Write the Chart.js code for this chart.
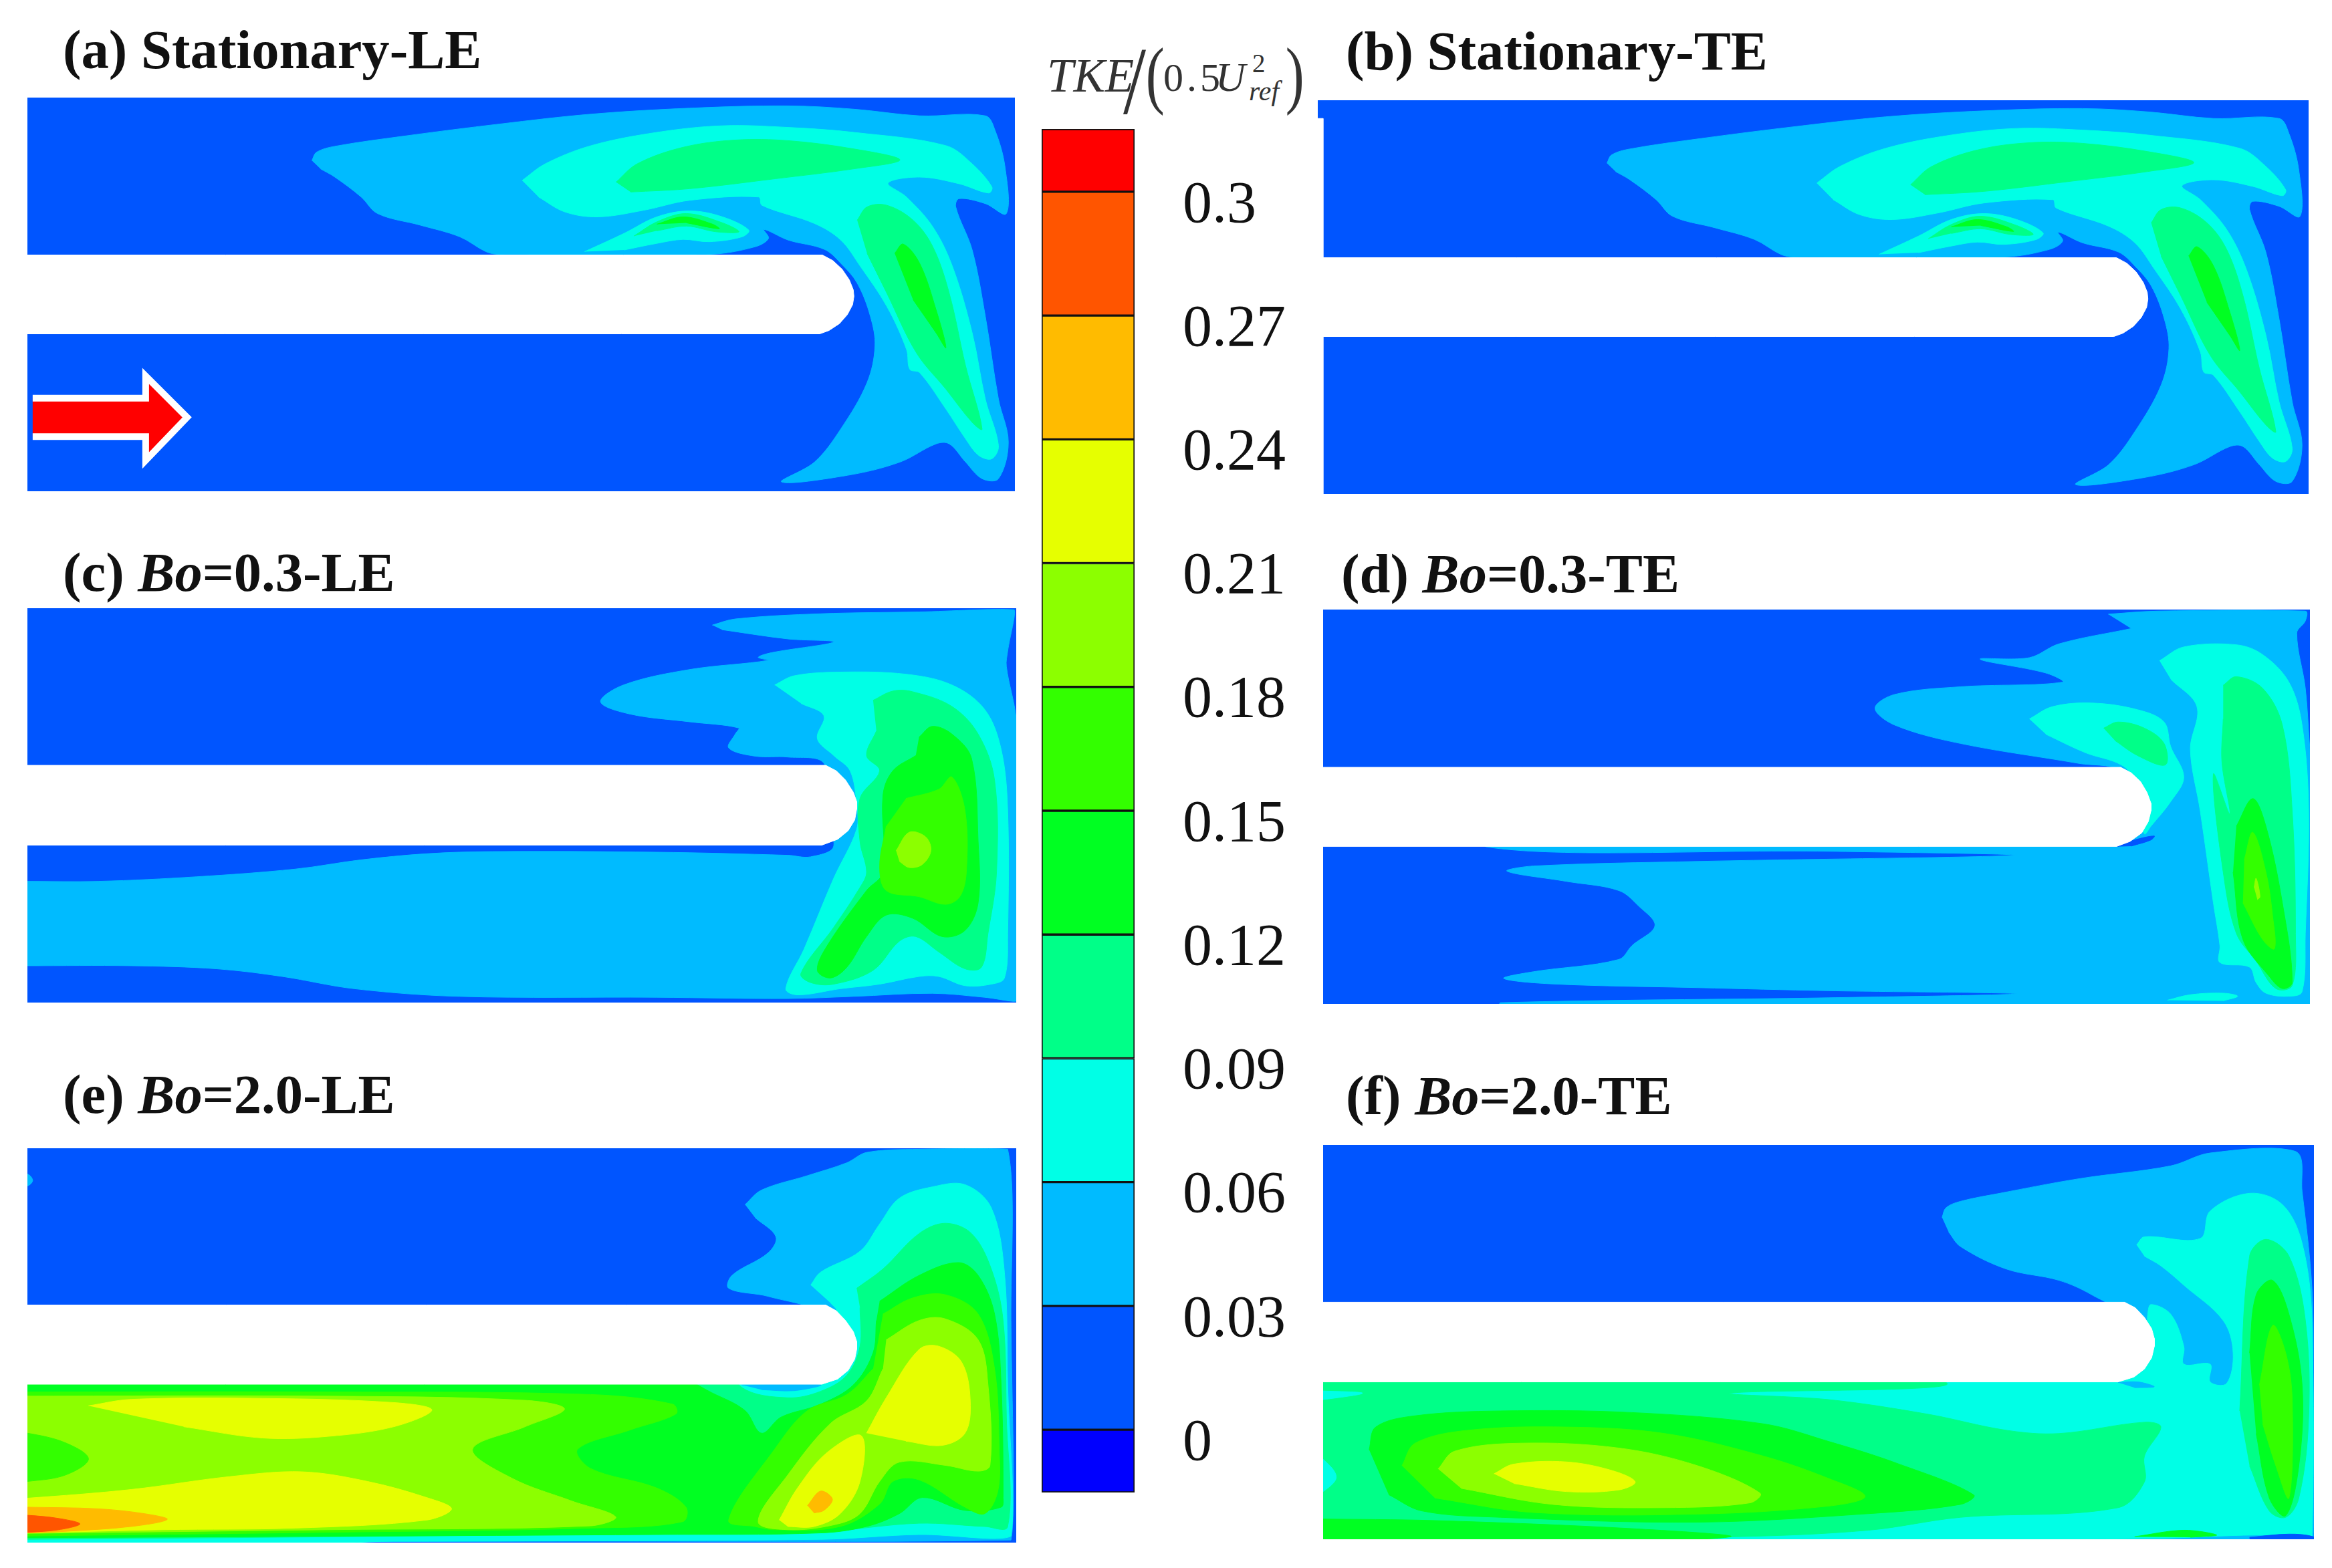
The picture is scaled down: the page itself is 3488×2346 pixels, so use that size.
<!DOCTYPE html>
<html lang="en">
<head>
  <meta charset="UTF-8" />
  <title>TKE contours</title>
  <script src="https://cdn.jsdelivr.net/npm/chart.js"></script>
  <style>
    html, body { margin: 0; background: #fff; }
    #page { position: relative; width: 3488px; height: 2346px; overflow: hidden; font-family: "Liberation Serif", serif; }
    #page canvas { position: absolute; }
    .tag { position: absolute; font-size: 82.6px; line-height: 1; font-weight: bold; color: #111; white-space: nowrap; }
    .hd { position: absolute; color: #333; line-height: 1; white-space: nowrap; }
  </style>
</head>
<body>
<div id="page">
  <div class="tag" style="left:94px;top:33px">(a) Stationary-LE</div>
  <div class="tag" style="left:2013px;top:35px">(b) Stationary-TE</div>
  <div class="tag" style="left:94px;top:815px">(c) <i>Bo</i>=0.3-LE</div>
  <div class="tag" style="left:2006px;top:817px">(d) <i>Bo</i>=0.3-TE</div>
  <div class="tag" style="left:94px;top:1596px">(e) <i>Bo</i>=2.0-LE</div>
  <div class="tag" style="left:2013px;top:1598px">(f) <i>Bo</i>=2.0-TE</div>

  <span class="hd" style="left:1566px;top:78px;font-size:71px;font-style:italic">TKE</span>
  <span class="hd" style="left:1677px;top:50px;font-size:144px;transform:scaleX(.85)">/</span>
  <span class="hd" style="left:1709px;top:55px;font-size:112px;transform:scaleX(.75)">(</span>
  <span class="hd" style="left:1740px;top:86px;font-size:60px;letter-spacing:5px">0.5</span>
  <span class="hd" style="left:1818px;top:84px;font-size:62px;font-style:italic">U</span>
  <span class="hd" style="left:1873px;top:75px;font-size:39px">2</span>
  <span class="hd" style="left:1868px;top:115px;font-size:42px;font-style:italic">ref</span>
  <span class="hd" style="left:1918px;top:55px;font-size:112px;transform:scaleX(.75)">)</span>

  <canvas id="panelA" width="1477" height="589" style="left:41px;top:146px"></canvas>
  <canvas id="panelB" width="1482" height="589" style="left:1971px;top:150px"></canvas>
  <canvas id="panelC" width="1479" height="590" style="left:41px;top:910px"></canvas>
  <canvas id="panelD" width="1476" height="590" style="left:1979px;top:912px"></canvas>
  <canvas id="panelE" width="1479" height="590" style="left:41px;top:1718px"></canvas>
  <canvas id="panelF" width="1482" height="590" style="left:1979px;top:1713px"></canvas>
  <canvas id="colorBar" width="420" height="2040" style="left:1558px;top:193px"></canvas>
</div>

<script>
// colour bar
const barEdges = [-0.0152, 0, 0.03, 0.06, 0.09, 0.12, 0.15, 0.18, 0.21, 0.24, 0.27, 0.3, 0.3152];
const barColors = ['#0000ff', '#0055ff', '#00bbff', '#00ffe6', '#00ff88', '#00ff22', '#33ff00', '#8cff00', '#e6ff00', '#ffbb00', '#ff5500', '#ff0000'];
const barTicks = [0, 0.03, 0.06, 0.09, 0.12, 0.15, 0.18, 0.21, 0.24, 0.27, 0.3];
const barLabels = ['0', '0.03', '0.06', '0.09', '0.12', '0.15', '0.18', '0.21', '0.24', '0.27', '0.3'];

// contour outlines in digitiser grid units (x right, y down)
// stationary cases (a) and (b) show the same field
const st03 = [[475,480],[482,455],[510,437],[620,405],[760,370],[900,340],[1050,322],[1200,315],[1300,325],[1400,345],[1500,345],[1515,390],[1530,500],[1532,640],[1500,610],[1460,595],[1455,620],[1480,750],[1500,950],[1520,1200],[1535,1330],[1520,1440],[1495,1440],[1470,1390],[1445,1335],[1425,1335],[1370,1390],[1290,1430],[1190,1450],[1240,1390],[1280,1290],[1320,1150],[1332,1040],[1325,950],[1305,850],[1280,790],[1255,748],[1200,720],[1163,688],[1170,715],[1150,740],[1080,763],[760,763],[740,755],[700,710],[640,675],[575,640],[550,590],[510,530],[488,505]];
const st06 = [[795,540],[830,490],[900,435],[1000,395],[1100,375],[1200,380],[1300,395],[1440,435],[1480,490],[1510,560],[1505,578],[1460,550],[1400,530],[1352,548],[1380,590],[1420,680],[1450,800],[1480,1000],[1500,1200],[1520,1340],[1510,1380],[1490,1370],[1470,1320],[1440,1230],[1400,1120],[1385,1110],[1380,1050],[1350,920],[1310,800],[1280,720],[1240,670],[1160,615],[1155,590],[1050,600],[980,630],[910,650],[860,635],[820,590]];
const st06Small = [[890,755],[950,700],[1000,650],[1050,632],[1100,650],[1140,690],[1130,710],[1080,725],[1040,718],[1000,730],[950,750]];
const st09Upper = [[938,545],[970,490],[1040,440],[1120,418],[1200,420],[1300,445],[1370,478],[1300,505],[1180,535],[1050,565],[960,575]];
const st09Right = [[1305,660],[1320,620],[1350,615],[1390,660],[1420,740],[1445,880],[1470,1100],[1495,1290],[1480,1270],[1440,1170],[1395,1060],[1350,880],[1320,760]];
const st09Small = [[965,708],[1000,665],[1045,640],[1100,668],[1125,695],[1090,695],[1045,678],[1000,692]];
const st12Right = [[1362,760],[1375,732],[1400,790],[1425,930],[1440,1045],[1425,1000],[1390,900]];
const st12Small = [[1000,672],[1040,650],[1085,672],[1095,686],[1045,668]];
const bladeSt = [[20,765],[1252,765],[1268,782],[1282,808],[1293,840],[1299,870],[1300,890],[1298,915],[1290,945],[1278,972],[1262,993],[1248,1003],[20,1003]];
const arrowA = [[50,1197],[222,1197],[222,1130],[285,1255],[222,1385],[222,1313],[50,1313]];
const trimB = [[20,345],[42,345],[42,1490],[20,1490]];

// (c)
const c03 = [[1085,295],[1120,275],[1250,258],[1400,252],[1545,245],[1535,380],[1533,430],[1548,600],[1560,1000],[1548,1520],[1500,1508],[1420,1495],[1300,1505],[1200,1512],[1000,1508],[700,1505],[540,1480],[430,1440],[330,1415],[200,1405],[42,1405],[20,1405],[20,1130],[42,1130],[150,1130],[300,1115],[450,1090],[550,1060],[650,1040],[750,1033],[1000,1035],[1200,1045],[1235,1050],[1270,1015],[1250,880],[1255,745],[1200,725],[1150,722],[1110,695],[1120,650],[1125,630],[1050,610],[960,585],[915,545],[950,490],[1050,440],[1170,410],[1155,400],[1175,385],[1270,350],[1200,340],[1100,310]];
const c06 = [[1180,490],[1210,460],[1280,448],[1380,455],[1450,490],[1500,570],[1525,700],[1535,900],[1535,1300],[1530,1445],[1510,1465],[1470,1470],[1430,1440],[1400,1440],[1340,1465],[1280,1480],[1215,1500],[1197,1480],[1225,1350],[1270,1120],[1305,960],[1305,880],[1295,770],[1270,720],[1245,665],[1255,590],[1220,550]];
const c09 = [[1330,540],[1360,510],[1390,512],[1450,560],[1490,650],[1515,800],[1518,1100],[1505,1300],[1495,1410],[1470,1415],[1430,1360],[1395,1310],[1370,1325],[1330,1420],[1270,1465],[1235,1460],[1220,1430],[1270,1280],[1310,1150],[1320,1100],[1310,1000],[1310,860],[1340,770],[1320,720],[1335,640]];
const c12 = [[1400,660],[1420,625],[1450,650],[1480,730],[1490,1000],[1490,1200],[1470,1290],[1435,1310],[1390,1250],[1350,1240],[1320,1310],[1290,1410],[1265,1445],[1245,1420],[1260,1340],[1320,1160],[1345,1100],[1345,850],[1360,770],[1395,720]];
const c15 = [[1380,860],[1430,830],[1450,790],[1470,900],[1472,1100],[1462,1180],[1440,1205],[1400,1180],[1350,1160],[1340,1080],[1350,950]];
const c18 = [[1365,1030],[1385,970],[1410,985],[1418,1030],[1405,1075],[1385,1085],[1370,1065]];
const bladeC = [[20,752],[1258,752],[1274,770],[1288,800],[1300,840],[1305,870],[1305,895],[1302,930],[1292,965],[1276,993],[1252,1012],[20,1012]];

// (d)
const d03 = [[1225,258],[1300,248],[1525,248],[1525,280],[1512,320],[1525,500],[1532,700],[1545,1000],[1545,1540],[300,1540],[300,1526],[800,1510],[1085,1497],[800,1487],[600,1477],[380,1465],[305,1447],[350,1425],[480,1385],[500,1340],[535,1275],[510,1210],[480,1160],[400,1130],[310,1097],[350,1080],[600,1065],[1080,1045],[800,1032],[280,1018],[400,900],[1200,880],[1240,770],[1180,745],[1000,680],[900,620],[870,565],[900,520],[1000,495],[1155,480],[1130,450],[1030,405],[1105,400],[1150,355],[1260,305]];
const d00Tip = [[1238,1017],[1265,995],[1295,982],[1290,995],[1260,1015]];
const d06Blob = [[1105,600],[1140,560],[1200,548],[1270,570],[1310,610],[1320,690],[1340,790],[1320,870],[1290,950],[1280,975],[1270,890],[1265,800],[1245,750],[1190,710],[1130,650]];
const d06Right = [[1303,410],[1340,365],[1420,358],[1460,390],[1500,480],[1520,620],[1530,900],[1525,1300],[1520,1490],[1500,1505],[1465,1495],[1450,1460],[1440,1410],[1395,1395],[1395,1340],[1385,1200],[1365,900],[1350,700],[1360,560],[1320,470]];
const d06Low = [[1315,1518],[1350,1500],[1400,1495],[1422,1505],[1400,1520]];
const d09Blob = [[1218,630],[1240,610],[1280,630],[1310,680],[1312,750],[1270,720],[1235,670]];
const d09Right = [[1400,490],[1420,462],[1460,500],[1490,620],[1505,900],[1510,1300],[1505,1470],[1480,1480],[1450,1390],[1420,1300],[1400,1100],[1385,780],[1410,910],[1398,740],[1400,600]];
const d12 = [[1420,950],[1445,860],[1465,950],[1490,1200],[1505,1460],[1490,1480],[1470,1440],[1430,1320],[1415,1100]];
const d15 = [[1432,1060],[1445,970],[1465,1100],[1475,1240],[1478,1350],[1460,1320],[1430,1200]];
const d18 = [[1447,1150],[1450,1120],[1456,1180],[1452,1190]];
const bladeD = [[20,758],[1244,758],[1260,776],[1274,804],[1284,840],[1290,875],[1290,900],[1286,935],[1276,972],[1258,1000],[1238,1016],[20,1016]];

// (e)
const e03 = [[1135,440],[1160,395],[1230,350],[1290,310],[1320,278],[1400,268],[1535,268],[1540,800],[1540,1482],[800,1486],[42,1490],[20,1490],[20,880],[600,880],[1200,860],[1250,780],[1170,725],[1110,700],[1115,660],[1170,590],[1182,540],[1150,480]];
const e03Notch = [[20,345],[42,345],[50,365],[42,382],[20,382]];
const e06 = [[1235,690],[1250,650],[1310,585],[1340,500],[1370,420],[1420,385],[1470,378],[1510,450],[1530,650],[1535,1000],[1540,1470],[1400,1465],[1250,1480],[600,1486],[20,1488],[20,880],[600,880],[1200,880],[1280,860],[1275,770],[1265,745]];
const e03Under = [[1130,1000],[1250,1000],[1210,1018],[1160,1015]];
const e09 = [[1305,700],[1345,640],[1400,530],[1440,498],[1480,530],[1510,640],[1528,800],[1533,1100],[1535,1440],[1500,1440],[1400,1430],[1250,1455],[600,1470],[42,1480],[20,1480],[20,880],[600,880],[1100,900],[1130,1008],[1200,1040],[1250,1020],[1290,970],[1310,880],[1310,760]];
const e12 = [[1340,740],[1400,660],[1460,620],[1490,660],[1515,780],[1525,1000],[1528,1350],[1525,1380],[1470,1390],[1405,1350],[1370,1400],[1320,1440],[1250,1460],[1000,1465],[42,1475],[20,1475],[20,900],[300,900],[1000,950],[1090,1030],[1135,1080],[1160,1150],[1190,1100],[1250,1060],[1300,1000],[1330,900],[1335,800]];
const e15Right = [[1345,780],[1390,730],[1440,720],[1490,780],[1515,950],[1522,1200],[1520,1330],[1500,1400],[1470,1380],[1400,1295],[1360,1300],[1340,1370],[1280,1440],[1180,1450],[1150,1440],[1110,1420],[1180,1200],[1230,1080],[1290,1030],[1330,950]];
const e15Left = [[20,1022],[500,1022],[900,1030],[1025,1060],[1030,1090],[960,1140],[880,1200],[900,1260],[1000,1320],[1045,1380],[1040,1425],[900,1445],[500,1458],[20,1470]];
const e18Left = [[20,1035],[500,1035],[800,1048],[860,1075],[800,1130],[720,1200],[780,1290],[870,1360],[938,1410],[900,1438],[500,1450],[20,1462]];
const e15Blob = [[20,1150],[42,1150],[100,1180],[135,1230],[100,1280],[42,1300],[20,1300]];
const e18Right = [[1350,860],[1400,800],[1440,795],[1490,860],[1505,1000],[1508,1250],[1490,1268],[1440,1250],[1370,1240],[1340,1300],[1310,1400],[1270,1435],[1200,1450],[1155,1425],[1200,1280],[1265,1120],[1320,1050],[1345,950]];
const e21Upper = [[135,1065],[200,1045],[400,1042],[600,1055],[658,1078],[600,1130],[500,1160],[400,1165],[280,1130]];
const e21Lower = [[20,1352],[42,1352],[200,1325],[350,1285],[460,1270],[560,1300],[650,1350],[688,1385],[650,1420],[450,1445],[250,1450],[42,1460],[20,1460]];
const e21RightA = [[1320,1150],[1350,1040],[1400,890],[1430,880],[1465,930],[1478,1050],[1470,1150],[1435,1188],[1380,1175]];
const e21RightB = [[1187,1420],[1215,1320],[1260,1210],[1312,1158],[1310,1300],[1280,1400],[1240,1440],[1200,1440]];
const e24Left = [[20,1380],[42,1380],[150,1385],[220,1400],[255,1418],[200,1440],[100,1455],[42,1460],[20,1460]];
const e24Right = [[1230,1375],[1250,1330],[1268,1355],[1255,1390],[1240,1398]];
const e27 = [[20,1405],[42,1405],[90,1415],[122,1432],[90,1450],[42,1458],[20,1458]];
const bladeE = [[20,752],[1258,752],[1274,770],[1288,800],[1300,835],[1305,865],[1305,890],[1302,920],[1292,955],[1276,982],[1252,998],[20,998]];

// (f)
const f03 = [[972,480],[978,450],[1000,430],[1060,405],[1180,360],[1320,320],[1380,280],[1510,275],[1520,400],[1535,700],[1537,1000],[1537,1478],[800,1490],[20,1490],[20,860],[600,860],[1200,860],[1240,780],[1200,720],[1150,675],[1070,640],[1000,570],[982,525]];
const f06 = [[1268,565],[1280,540],[1365,545],[1380,460],[1440,405],[1490,440],[1520,560],[1535,800],[1535,1470],[1450,1465],[1300,1475],[600,1490],[20,1490],[20,860],[600,860],[1200,860],[1280,860],[1285,780],[1290,750],[1320,780],[1340,880],[1340,935],[1380,935],[1380,990],[1405,995],[1415,900],[1400,800],[1340,690],[1305,630],[1280,600]];
const f03Tip = [[1240,992],[1270,990],[1295,1005],[1265,1008]];
const f09Low = [[20,860],[600,860],[980,995],[650,1025],[800,1045],[950,1090],[1070,1140],[1150,1150],[1280,1115],[1305,1130],[1280,1220],[1280,1300],[1240,1380],[1000,1410],[860,1450],[660,1470],[20,1490]];
const f06NotchTop = [[20,1018],[30,1018],[90,1025],[30,1045],[20,1045]];
const f06NotchLeft = [[20,1230],[30,1230],[50,1285],[30,1330],[20,1330]];
const f09Right = [[1425,1080],[1440,600],[1465,548],[1500,600],[1525,800],[1530,1100],[1515,1350],[1495,1410],[1470,1390],[1440,1250]];
const f12Main = [[100,1200],[110,1130],[170,1095],[300,1080],[500,1085],[700,1120],[800,1175],[900,1240],[1020,1340],[1000,1370],[850,1400],[600,1425],[300,1410],[180,1390],[130,1340]];
const f12Bottom = [[20,1415],[200,1420],[500,1445],[650,1470],[400,1490],[20,1490]];
const f12Low = [[1265,1470],[1340,1450],[1390,1465],[1350,1472]];
const f12Right = [[1440,900],[1450,720],[1475,675],[1500,780],[1520,1000],[1515,1250],[1495,1405],[1470,1350],[1450,1150]];
const f15Main = [[150,1250],[170,1180],[250,1140],[400,1130],[550,1150],[700,1220],[800,1290],[855,1345],[800,1375],[600,1400],[350,1395],[200,1350]];
const f15Right = [[1455,1000],[1475,815],[1495,900],[1505,1050],[1500,1350],[1480,1250],[1460,1120]];
const f18 = [[205,1260],[230,1205],[330,1180],[480,1195],[600,1250],[695,1335],[680,1365],[550,1380],[380,1370],[240,1320]];
const f21 = [[290,1275],[320,1245],[400,1238],[470,1265],[505,1300],[480,1325],[400,1330],[320,1305]];
const f00Corner = [[1440,1472],[1500,1462],[1537,1470],[1537,1485],[1440,1485]];
const bladeF = [[20,743],[1250,743],[1266,760],[1280,790],[1291,825],[1295,855],[1295,880],[1291,915],[1280,950],[1264,975],[1240,990],[20,990]];

// axis windows of the panels in the same grid units
const xMinA = 42, xMaxA = 1545, yMinA = 290, yMaxA = 1478;
const xMinB = 34, xMaxB = 1545, yMinB = 290, yMaxB = 1478;
const xMinC = 42, xMaxC = 1548, yMinC = 240, yMaxC = 1525;
const xMinD = 30, xMaxD = 1532, yMinD = 243, yMaxD = 1530;
const xMinE = 42, xMaxE = 1548, yMinE = 265, yMaxE = 1490;
const xMinF = 30, xMaxF = 1538, yMinF = 255, yMaxF = 1478;

// [lower level of the band, outline]
const layersSt = [[0.03, st03], [0.06, st06], [0.06, st06Small], [0.09, st09Upper], [0.09, st09Right], [0.09, st09Small], [0.12, st12Right], [0.12, st12Small]];
const layersC = [[0.03, c03], [0.06, c06], [0.09, c09], [0.12, c12], [0.15, c15], [0.18, c18]];
const layersD = [[0.03, d03], [0, d00Tip], [0.06, d06Blob], [0.06, d06Right], [0.06, d06Low], [0.09, d09Blob], [0.09, d09Right], [0.12, d12], [0.15, d15], [0.18, d18]];
const layersE = [[0.03, e03], [0.03, e03Notch], [0.06, e06], [0.03, e03Under], [0.09, e09], [0.12, e12], [0.15, e15Right], [0.15, e15Left], [0.18, e18Left], [0.15, e15Blob], [0.18, e18Right], [0.21, e21Upper], [0.21, e21Lower], [0.21, e21RightA], [0.21, e21RightB], [0.24, e24Left], [0.24, e24Right], [0.27, e27]];
const layersF = [[0.03, f03], [0.06, f06], [0.03, f03Tip], [0.09, f09Low], [0.06, f06NotchTop], [0.06, f06NotchLeft], [0.09, f09Right], [0.12, f12Main], [0.12, f12Bottom], [0.12, f12Low], [0.12, f12Right], [0.15, f15Main], [0.15, f15Right], [0.18, f18], [0.21, f21], [0, f00Corner]];

function shape(points, color, tension, extra) {
  return Object.assign({
    data: points.map(p => ({ x: p[0], y: p[1] })),
    showLine: true,
    fill: 'shape',
    backgroundColor: color,
    borderColor: color,
    borderWidth: 1,
    pointRadius: 0,
    tension: tension
  }, extra || {});
}

function bandColor(level) {
  return barColors[barEdges.indexOf(level)];
}

function drawPanel(id, layers, blade, xMin, xMax, yMin, yMax, extras) {
  const base = [[xMin - 20, yMin - 20], [xMax + 20, yMin - 20], [xMax + 20, yMax + 20], [xMin - 20, yMax + 20]];
  let sets = [shape(base, bandColor(0), 0)];
  layers.forEach(l => sets.push(shape(l[1], bandColor(l[0]), 0.35)));
  sets.push(shape(blade, '#ffffff', 0));
  sets = sets.concat(extras || []);
  // chart.js paints the first dataset last
  sets.reverse();
  new Chart(document.getElementById(id), {
    type: 'scatter',
    data: { datasets: sets },
    options: {
      responsive: false,
      animation: false,
      events: [],
      plugins: { legend: { display: false }, tooltip: { enabled: false } },
      scales: {
        x: { type: 'linear', display: false, min: xMin, max: xMax },
        y: { type: 'linear', display: false, min: yMin, max: yMax, reverse: true }
      }
    }
  });
}

drawPanel('panelA', layersSt, bladeSt, xMinA, xMaxA, yMinA, yMaxA,
  [shape(arrowA, '#ff0000', 0, { borderColor: '#ffffff', borderWidth: 10, borderJoinStyle: 'miter' })]);
drawPanel('panelB', layersSt, bladeSt, xMinB, xMaxB, yMinB, yMaxB, [shape(trimB, '#ffffff', 0)]);
drawPanel('panelC', layersC, bladeC, xMinC, xMaxC, yMinC, yMaxC);
drawPanel('panelD', layersD, bladeD, xMinD, xMaxD, yMinD, yMaxD);
drawPanel('panelE', layersE, bladeE, xMinE, xMaxE, yMinE, yMaxE);
drawPanel('panelF', layersF, bladeF, xMinF, xMaxF, yMinF, yMaxF);

// labels sit a little under their band edge in the original, so they get their own axis
const labelShift = 0.0035;
new Chart(document.getElementById('colorBar'), {
  type: 'bar',
  data: {
    labels: ['TKE'],
    datasets: barColors.map((c, i) => ({
      data: [[barEdges[i], barEdges[i + 1]]],
      backgroundColor: c,
      borderColor: '#111',
      borderWidth: 2,
      borderSkipped: false,
      barPercentage: 1,
      categoryPercentage: 1,
      grouped: false
    }))
  },
  options: {
    responsive: false,
    animation: false,
    events: [],
    plugins: { legend: { display: false }, tooltip: { enabled: false } },
    scales: {
      x: { display: false },
      y: { display: false, min: barEdges[0], max: barEdges[barEdges.length - 1] },
      labels: {
        position: 'right',
        min: barEdges[0] + labelShift,
        max: barEdges[barEdges.length - 1] + labelShift,
        grid: { display: false },
        border: { display: false },
        afterBuildTicks: s => { s.ticks = barTicks.map(v => ({ value: v })); },
        afterFit: s => { s.width = 281; s.paddingTop = 0; s.paddingBottom = 0; },
        ticks: {
          padding: 64,
          color: '#111',
          font: { family: '"Liberation Serif"', size: 88 },
          callback: v => barLabels[barTicks.indexOf(v)]
        }
      }
    }
  }
});
</script>
</body>
</html>
